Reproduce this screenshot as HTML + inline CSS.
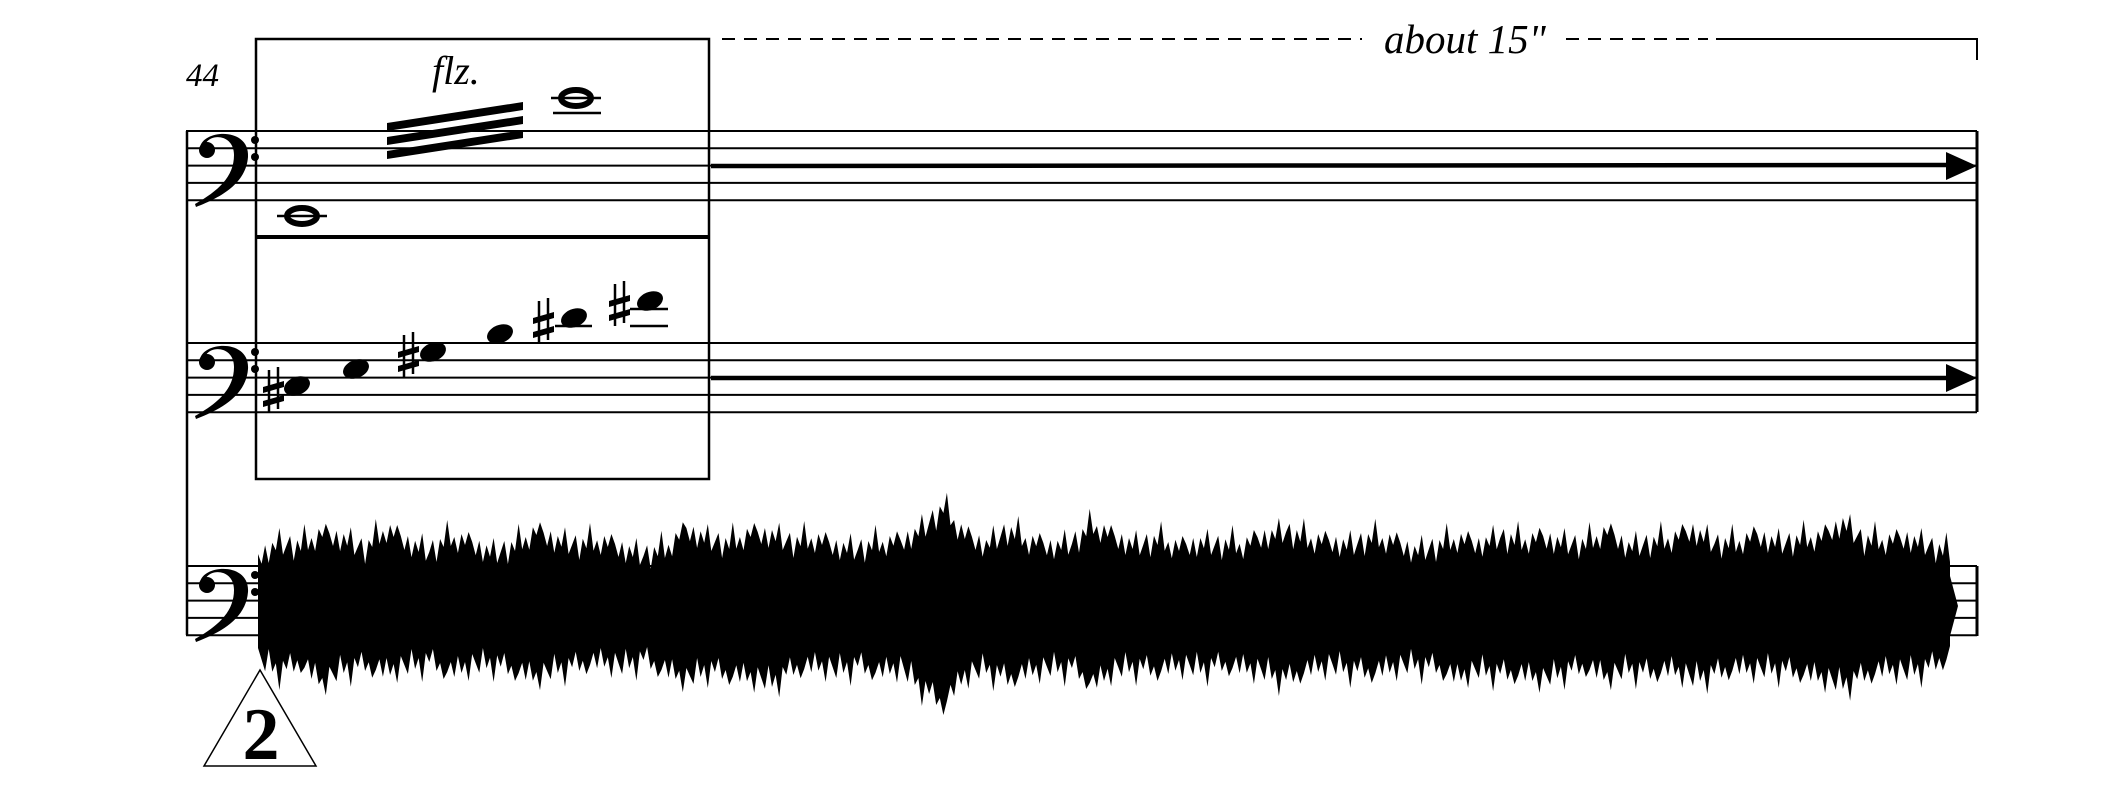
<!DOCTYPE html>
<html><head><meta charset="utf-8"><style>
html,body{margin:0;padding:0;background:#fff;}
svg{display:block;}
text{font-family:"Liberation Serif",serif;}
</style></head>
<body>
<svg id="score" width="2125" height="796" viewBox="0 0 2125 796" xmlns="http://www.w3.org/2000/svg">
<g id="staves" stroke="#000" stroke-width="2"></g>
<text x="186" y="86" font-size="33" font-style="italic">44</text>
<text x="432" y="84" font-size="40" font-style="italic">flz.</text>
<rect x="256" y="39" width="453" height="440" fill="none" stroke="#000" stroke-width="2.5"/>
<line x1="256" y1="237" x2="709" y2="237" stroke="#000" stroke-width="4"/>
<g fill="#000">
<polygon points="387,123 523,102 523,110 387,131"/>
<polygon points="387,137 523,116 523,124 387,145"/>
<polygon points="387,151 523,130 523,138 387,159"/>
</g>
<g id="notes"></g>
<g stroke="#000" stroke-width="2" fill="none">
<line x1="722" y1="39" x2="1362" y2="39" stroke-dasharray="13,9"/>
<line x1="1566" y1="39" x2="1708" y2="39" stroke-dasharray="13,9"/>
<polyline points="1716,39 1977,39 1977,60"/>
</g>
<text x="1384" y="53" font-size="41" font-style="italic">about 15"</text>
<g>
<line x1="711" y1="166" x2="1950" y2="165" stroke="#000" stroke-width="4.5"/>
<polygon points="1946,152 1977,166 1946,180" fill="#000"/>
<line x1="711" y1="378" x2="1950" y2="378" stroke="#000" stroke-width="4.5"/>
<polygon points="1946,364 1977,378 1946,392" fill="#000"/>
</g>
<path id="wave" fill="#000"/>
<g>
<polygon points="260,670 316,766 204,766" fill="#fff" stroke="#000" stroke-width="1.5"/>
<text x="261" y="759" font-size="74" font-weight="bold" text-anchor="middle">2</text>
</g>
</svg>
<script>
const NS='http://www.w3.org/2000/svg';
const staffTops=[131,343,566];
const waveTop=[52,66,62,74,70,60,78,66,58,70,64,56,62,76,68,64,66,60,54,58,78,70,64,74,74,66,68,62,60,64,66,80,100,72,64,78,66,62,66,82,70,64,68,60,66,64,62,72,78,68,66,64,70,66,58,62,68,64,72,66,70,66,64,76,62,66,68,78,66,64,72,66,68,70,86,68,66,70,64,54];
const waveBot=[56,66,58,80,64,60,68,62,56,68,62,58,66,74,64,60,58,62,54,66,76,64,70,74,78,64,62,66,60,68,64,82,100,72,64,74,68,64,62,80,66,62,66,62,64,60,64,68,74,66,62,64,68,64,60,62,74,66,68,70,76,66,62,74,64,68,66,74,68,64,66,64,68,74,80,70,66,68,62,52];
const jag=[0,-12,4,-16,2,-8,12,-14,-4,6,-18,3,-7,18,-10,0,-15,5,-5,9];
const heads=[[297,386],[356,369],[433,352],[500,334],[574,318],[650,301]];
const sharps=[[273,392],null,[408,357],null,[543,323],[619,306]];
const st=document.getElementById('staves');
staffTops.forEach((t)=>{
  for(let i=0;i<5;i++){
    const l=document.createElementNS(NS,'line');
    
    
    l.setAttribute('x1',186);l.setAttribute('x2',1977);
    l.setAttribute('y1',t+i*17.3);l.setAttribute('y2',t+i*17.3);
    st.appendChild(l);
  }
  const g=document.createElementNS(NS,'g');
  
  
  const p=document.createElementNS(NS,'path');
  p.setAttribute('d',`M200,${t+16} C204,${t-2} 250,${t-4} 248,${t+26} C246,${t+52} 222,${t+66} 196,${t+76} L195,${t+73} C218,${t+60} 234,${t+46} 234,${t+24} C234,${t+4} 212,${t+2} 206,${t+12} Z`);
  p.setAttribute('fill','#000');p.setAttribute('stroke','none');
  g.appendChild(p);
  [[207,t+19,8],[255,t+9,4],[255,t+26,4]].forEach(c=>{
    const e=document.createElementNS(NS,'circle');
    e.setAttribute('cx',c[0]);e.setAttribute('cy',c[1]);e.setAttribute('r',c[2]);e.setAttribute('fill','#000');e.setAttribute('stroke','none');
    g.appendChild(e);
  });
  st.appendChild(g);
});
const bl=document.createElementNS(NS,'line');


bl.setAttribute('x1',187);bl.setAttribute('x2',187);bl.setAttribute('y1',131);bl.setAttribute('y2',635);
bl.setAttribute('stroke-width','2.5');
st.appendChild(bl);
const bl2=document.createElementNS(NS,'line');


bl2.setAttribute('x1',1977);bl2.setAttribute('x2',1977);bl2.setAttribute('y1',131);bl2.setAttribute('y2',412);
bl2.setAttribute('stroke-width','3');
st.appendChild(bl2);
const bl3=document.createElementNS(NS,'line');


bl3.setAttribute('x1',1977);bl3.setAttribute('x2',1977);bl3.setAttribute('y1',566);bl3.setAttribute('y2',636);
bl3.setAttribute('stroke-width','3');
st.appendChild(bl3);
const ng=document.getElementById('notes');
function line(x1,y1,x2,y2,w,name){const l=document.createElementNS(NS,'line');


l.setAttribute('x1',x1);l.setAttribute('y1',y1);l.setAttribute('x2',x2);l.setAttribute('y2',y2);l.setAttribute('stroke','#000');l.setAttribute('stroke-width',w);ng.appendChild(l);}
[[576,98],[302,216]].forEach(w=>{
  const e=document.createElementNS(NS,'ellipse');
  
  
  e.setAttribute('cx',w[0]);e.setAttribute('cy',w[1]);e.setAttribute('rx',15);e.setAttribute('ry',8);
  e.setAttribute('fill','none');e.setAttribute('stroke','#000');e.setAttribute('stroke-width','6');
  ng.appendChild(e);
  line(w[0]-25,w[1],w[0]+25,w[1],2.5,'ledger-line');
});
line(553,113,601,113,2.5,'ledger-line');
heads.forEach((h,i)=>{
  const e=document.createElementNS(NS,'ellipse');
  
  
  e.setAttribute('cx',h[0]);e.setAttribute('cy',h[1]);e.setAttribute('rx',13.5);e.setAttribute('ry',9);
  e.setAttribute('transform',`rotate(-22 ${h[0]} ${h[1]})`);
  ng.appendChild(e);
  const s=sharps[i];
  if(s){
    const g=document.createElementNS(NS,'g');
    
    
    const x=s[0],y=s[1];
    g.innerHTML=`<line x1="${x-4}" y1="${y-22}" x2="${x-4}" y2="${y+20}" stroke="#000" stroke-width="2.5"/><line x1="${x+5}" y1="${y-25}" x2="${x+5}" y2="${y+17}" stroke="#000" stroke-width="2.5"/><polygon points="${x-10},${y-5} ${x+11},${y-11} ${x+11},${y-5} ${x-10},${y+1}" fill="#000"/><polygon points="${x-10},${y+9} ${x+11},${y+3} ${x+11},${y+9} ${x-10},${y+15}" fill="#000"/>`;
    ng.appendChild(g);
  }
});
line(555,326,592,326,2.5,'ledger-line');
line(630,309,668,309,2.5,'ledger-line');
line(630,326,668,326,2.5,'ledger-line');
// waveform
const x0=258,x1=1950,cy=606,n=waveTop.length;
const xs=i=>x0+(x1-x0)*i/(n-1);
let d='M'+x0+','+(cy-20);
const sub=6;
for(let i=0;i<n;i++){
  for(let k=0;k<sub;k++){
    if(i===n-1&&k>0)break;
    const f=k/sub, j=i+1<n?i+1:i;
    const a=waveTop[i]*(1-f)+waveTop[j]*f + jag[(i*sub+k)%jag.length];
    d+=' L'+(xs(i)+(xs(j)-xs(i))*f).toFixed(1)+','+(cy-a).toFixed(1);
  }
}
d+=' L'+x1+','+(cy-30)+' L'+(x1+8)+','+cy+' L'+x1+','+(cy+30);
for(let i=n-1;i>=0;i--){
  for(let k=sub-1;k>=0;k--){
    if(i===n-1&&k>0)continue;
    const f=k/sub, j=i+1<n?i+1:i;
    const a=waveBot[i]*(1-f)+waveBot[j]*f + jag[(i*sub+k+7)%jag.length];
    d+=' L'+(xs(i)+(xs(j)-xs(i))*f).toFixed(1)+','+(cy+a).toFixed(1);
  }
}
d+=' L'+x0+','+(cy+20)+' Z';
document.getElementById('wave').setAttribute('d',d);
</script>
</body></html>
